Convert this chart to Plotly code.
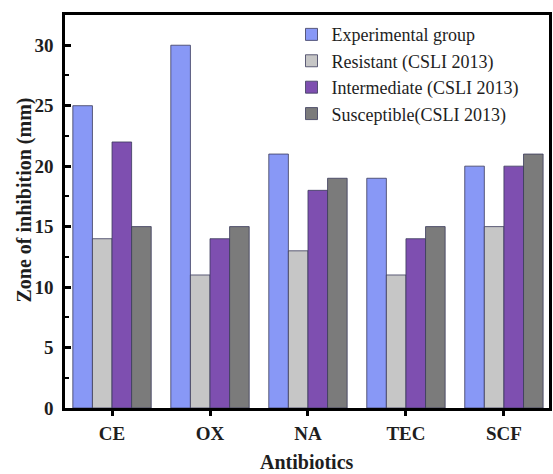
import plotly.graph_objects as go

categories = ["CE", "OX", "NA", "TEC", "SCF"]
experimental = [25, 30, 21, 19, 20]
resistant = [14, 11, 13, 11, 15]
intermediate = [22, 14, 18, 14, 20]
susceptible = [15, 15, 19, 15, 21]
y_ticks = [0, 5, 10, 15, 20, 25, 30]
y_minor = [2.5, 7.5, 12.5, 17.5, 22.5, 27.5]

series = [
    ("Experimental group", experimental, "#8898F6"),
    ("Resistant (CSLI 2013)", resistant, "#C6C6C6"),
    ("Intermediate (CSLI 2013)", intermediate, "#7E4FB0"),
    ("Susceptible(CSLI 2013)", susceptible, "#7B7B7B"),
]

fig = go.Figure()
for name, vals, col in series:
    fig.add_trace(go.Bar(
        x=categories, y=vals, name=name,
        marker=dict(color=col, line=dict(color="#3a3a5a", width=0.8)),
    ))

serif = "Liberation Serif, Times New Roman, serif"
txt = "#1e1e1e"
fig.update_layout(
    width=553, height=474,
    margin=dict(l=65, r=4, t=15, b=66),
    paper_bgcolor="white", plot_bgcolor="white",
    barmode="group", bargap=0.2, bargroupgap=0,
    font=dict(family=serif, color="black"),
    showlegend=True,
    legend=dict(
        x=0.468, y=0.997, xanchor="left", yanchor="top",
        font=dict(family=serif, size=18, color=txt),
        bgcolor="rgba(255,255,255,0)", borderwidth=0,
        tracegroupgap=0,
    ),
    xaxis=dict(
        range=[-0.48, 4.46], automargin=False,
        showline=True, mirror=True, linecolor="black", linewidth=2.5,
        ticks="outside", ticklen=5, tickwidth=2.5, tickcolor="black",
        tickfont=dict(family=serif, size=19, color=txt, weight="bold"),
        ticklabelstandoff=1,
    ),
    yaxis=dict(
        range=[0, 32.5], automargin=False,
        tickvals=y_ticks,
        showline=True, mirror=True, linecolor="black", linewidth=2.5,
        ticks="inside", ticklen=6, tickwidth=2.5, tickcolor="black",
        minor=dict(tickvals=y_minor, ticks="inside", ticklen=4, tickwidth=2, tickcolor="black"),
        showgrid=False, zeroline=False,
        tickfont=dict(family=serif, size=19, color=txt, weight="bold"),
        ticklabelstandoff=5,
    ),
    annotations=[
        dict(text="<b>Antibiotics</b>", xref="paper", yref="paper", x=0.5, y=-0.137,
             xanchor="center", yanchor="middle", showarrow=False,
             font=dict(family=serif, size=20, color=txt)),
        dict(text="<b>Zone of inhibition (mm)</b>", xref="paper", yref="paper", x=-0.083, y=0.53,
             xanchor="center", yanchor="middle", showarrow=False, textangle=-90,
             font=dict(family=serif, size=20, color=txt)),
    ],
)
fig.write_html("out.html", config={"displayModeBar": False},
               post_script="document.body.style.margin='0px';")
